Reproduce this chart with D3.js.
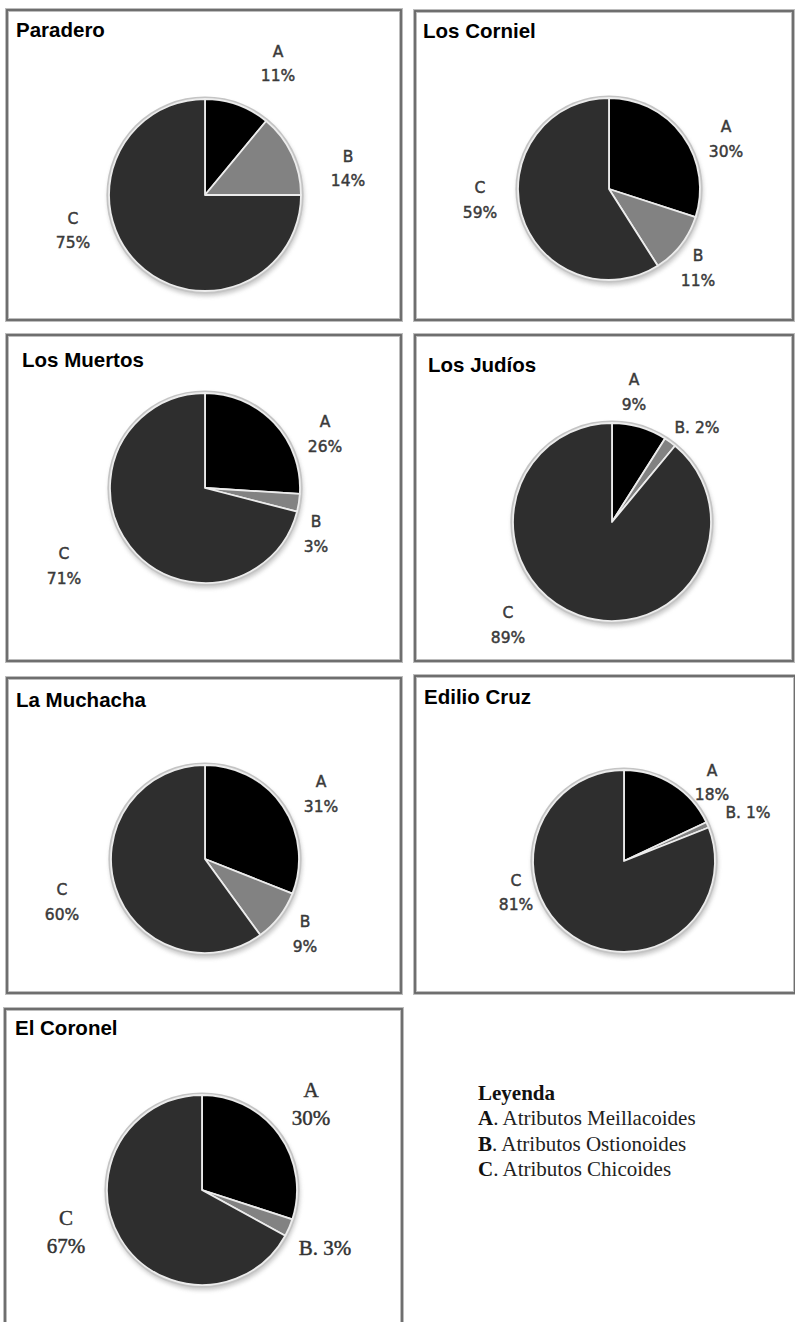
<!DOCTYPE html>
<html>
<head>
<meta charset="utf-8">
<script src="https://cdn.jsdelivr.net/npm/d3@7"></script>
<style>
  html, body { margin: 0; padding: 0; background: #fff; }
  svg { display: block; }
</style>
</head>
<body>
<svg id="chart" width="795" height="1322"></svg>
<script>
// Share of ceramic attributes (%) per site
const sites   = ["Paradero", "Los Corniel", "Los Muertos", "Los Judíos", "La Muchacha", "Edilio Cruz", "El Coronel"];
const shareA  = [11, 30, 26,  9, 31, 18, 30];
const shareB  = [14, 11,  3,  2,  9,  1,  3];
const shareC  = [75, 59, 71, 89, 60, 81, 67];
const categories = ["A", "B", "C"];

const legendTitle = "Leyenda";
const legendItems = ["Atributos Meillacoides", "Atributos Ostionoides", "Atributos Chicoides"];

// Panel layout: frame box, pie centre/radius, label anchors
const layout = [
  { box: [7, 10, 401, 320],   c: [205, 195],  r: 96, title: [16, 37],
    lab: { A: [278, 57], B: [348, 162], C: [73, 224] }, gap: 24, inlineB: false, serif: false },
  { box: [415, 11, 793, 320], c: [609, 189],  r: 91, title: [423, 38],
    lab: { A: [726, 132], B: [698, 261], C: [480, 193] }, gap: 25, inlineB: false, serif: false },
  { box: [7, 335, 401, 661],  c: [205, 488],  r: 95, title: [22, 367],
    lab: { A: [325, 427], B: [316, 527], C: [64, 559] }, gap: 25, inlineB: false, serif: false },
  { box: [415, 335, 793, 661], c: [612, 522], r: 99, title: [428, 372],
    lab: { A: [634, 385], B: [697, 433], C: [508, 618] }, gap: 25, inlineB: true, serif: false },
  { box: [7, 678, 401, 993],  c: [205, 859],  r: 94, title: [16, 707],
    lab: { A: [321, 787], B: [305, 927], C: [62, 895] }, gap: 25, inlineB: false, serif: false },
  { box: [415, 676, 795, 993], c: [624, 861], r: 91, title: [424, 704],
    lab: { A: [712, 776], B: [748, 818], C: [516, 886] }, gap: 24, inlineB: true, serif: false },
  { box: [5, 1009, 402, 1340], c: [202, 1190], r: 95, title: [15, 1035],
    lab: { A: [311, 1097], B: [325, 1255], C: [66, 1225] }, gap: 28, inlineB: true, serif: true }
];

const svg = d3.select("#chart");
const defs = svg.append("defs");
defs.append("filter").attr("id", "soft").attr("x", "-20%").attr("y", "-20%")
  .attr("width", "140%").attr("height", "140%")
  .append("feGaussianBlur").attr("stdDeviation", 2.2);
defs.append("filter").attr("id", "edge")
  .append("feGaussianBlur").attr("stdDeviation", 0.6);

const color = d3.scaleOrdinal().domain(categories).range(["#060606", "#828282", "#2e2e2e"]);
const pie = d3.pie().sort(null).value(d => d.value);

sites.forEach((site, i) => {
  const L = layout[i];
  const g = svg.append("g");
  const [x0, y0, x1, y1] = L.box;

  // frame
  g.append("rect").attr("x", x0).attr("y", y0).attr("width", x1 - x0).attr("height", y1 - y0)
    .attr("fill", "none").attr("stroke", "#bdbdbd").attr("stroke-width", 4);
  g.append("rect").attr("x", x0).attr("y", y0).attr("width", x1 - x0).attr("height", y1 - y0)
    .attr("fill", "none").attr("stroke", "#666").attr("stroke-width", 1.8);

  // title
  g.append("text").attr("x", L.title[0]).attr("y", L.title[1])
    .attr("font-family", "Liberation Sans, Arial, sans-serif").attr("font-weight", "bold")
    .attr("font-size", 20.5).attr("fill", "#000").text(site);

  const data = categories.map((k, j) => ({ key: k, value: [shareA, shareB, shareC][j][i] }));
  const arcs = pie(data);
  const arc = d3.arc().innerRadius(0).outerRadius(L.r);

  const pg = g.append("g").attr("transform", `translate(${L.c[0]},${L.c[1]})`);
  // soft drop shadow and bevel rim
  pg.append("circle").attr("cx", 1).attr("cy", 3).attr("r", L.r + 2)
    .attr("fill", "#9a9a9a").attr("opacity", 0.55).attr("filter", "url(#soft)");
  pg.append("circle").attr("r", L.r + 2.6).attr("fill", "#c4c4c4");

  pg.selectAll("path.slice").data(arcs).join("path")
    .attr("class", "slice")
    .attr("d", arc)
    .attr("fill", d => color(d.data.key))
    .attr("stroke", "#ececec").attr("stroke-width", 1.8).attr("stroke-linejoin", "round")
    .attr("filter", "url(#edge)");

  // labels
  const fam = L.serif ? "Liberation Serif, Times New Roman, serif" : "DejaVu Sans, sans-serif";
  const fs = L.serif ? 21 : 15.5;
  const fill = L.serif ? "#333" : "#3a3a3a";
  data.forEach(d => {
    const [lx, ly] = L.lab[d.key];
    const t = g.append("text").attr("x", lx).attr("y", ly).attr("text-anchor", "middle")
      .attr("font-family", fam).attr("font-size", fs).attr("fill", fill)
      .attr("stroke", fill).attr("stroke-width", 0.45);
    if (d.key === "B" && L.inlineB) {
      t.text(`${d.key}. ${d.value}%`);
    } else {
      t.append("tspan").attr("x", lx).text(d.key);
      t.append("tspan").attr("x", lx).attr("dy", L.gap).text(`${d.value}%`);
    }
  });
});

// legend
const lg = svg.append("g").attr("font-family", "Liberation Serif, Times New Roman, serif")
  .attr("font-size", 21).attr("fill", "#111");
lg.append("text").attr("x", 478).attr("y", 1100).attr("font-weight", "bold").text(legendTitle);
legendItems.forEach((item, j) => {
  const t = lg.append("text").attr("x", 478).attr("y", 1125 + j * 25.5);
  t.append("tspan").attr("font-weight", "bold").text(categories[j]);
  t.append("tspan").attr("fill", "#222").text(". " + item);
});
</script>
</body>
</html>
